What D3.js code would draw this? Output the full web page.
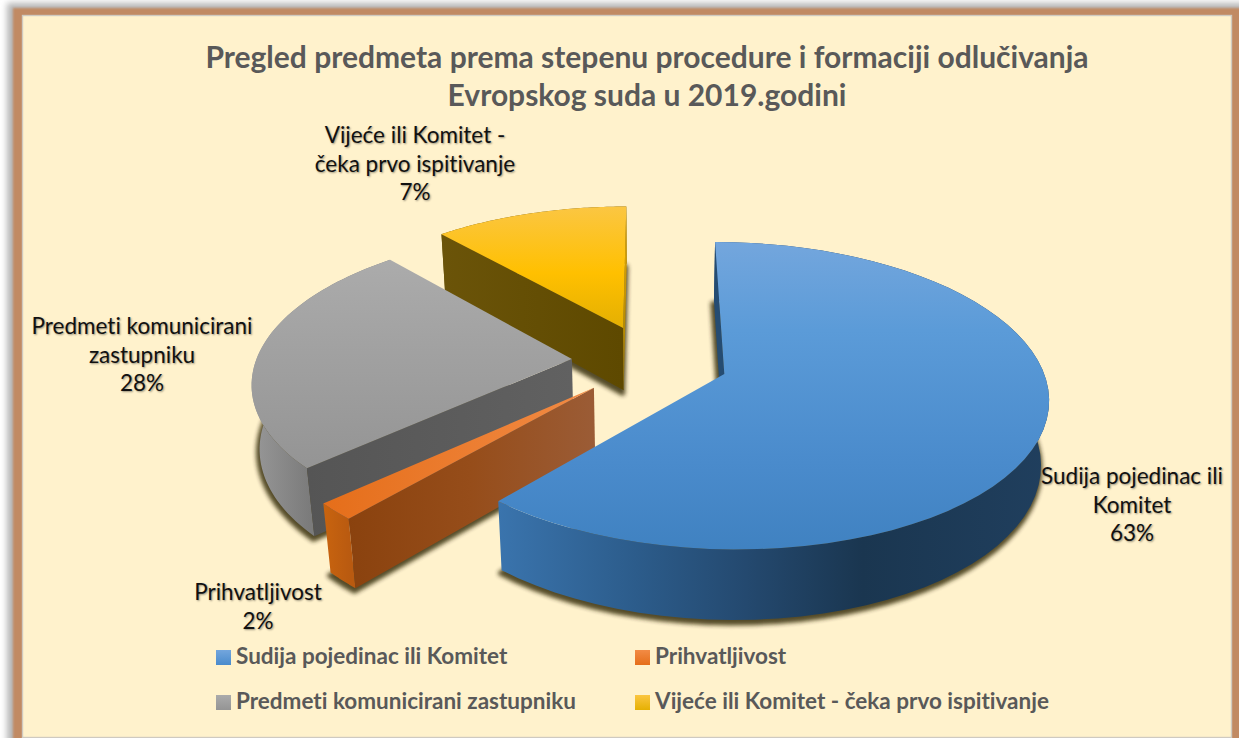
<!DOCTYPE html>
<html><head><meta charset="utf-8">
<script src="https://cdnjs.cloudflare.com/ajax/libs/d3/7.8.5/d3.min.js"></script>
<style>
html,body{margin:0;padding:0;background:#fff;overflow:hidden}
svg{display:block}
text{font-family:Lato,"Open Sans",sans-serif;font-variant-ligatures:none}
</style></head><body>
<svg id="c" width="1239" height="738"></svg>
<script>
const categories=["Sudija pojedinac ili Komitet","Prihvatljivost","Predmeti komunicirani zastupniku","Vijeće ili Komitet - čeka prvo ispitivanje"];
const values=[63,2,28,7];
const sliceColors=["#5b9bd5","#ed7d31","#a5a5a5","#ffc000"];
const titleLines=["Pregled predmeta prema stepenu procedure i formaciji odlučivanja","Evropskog suda u 2019.godini"];
const labelLines=[["Sudija pojedinac ili","Komitet","63%"],["Prihvatljivost","2%"],["Predmeti komunicirani","zastupniku","28%"],["Vijeće ili Komitet -","čeka prvo ispitivanje","7%"]];
const labelAnchors=[[1132,484],[258,600],[142,334],[415,143]];
const legendPos=[[216,650],[635,650],[216,695],[635,695]];
// drawn angles of the perspective rendering, degrees clockwise from the back of the pie
const drawnAngles=[0,221,227.5,318.5,360];

const W=1239,H=738;
const svg=d3.select("#c");
const defs=svg.append("defs");
const blur=(id,s)=>defs.append("filter").attr("id",id).attr("x","-20%").attr("y","-20%").attr("width","140%").attr("height","140%").append("feGaussianBlur").attr("stdDeviation",s);
blur("b1",1);blur("b3",3);blur("b2",2.2);
const grad=(id,x1,y1,x2,y2,stops)=>{const g=defs.append("linearGradient").attr("id",id).attr("gradientUnits","userSpaceOnUse").attr("x1",x1).attr("y1",y1).attr("x2",x2).attr("y2",y2);
 stops.forEach(s=>g.append("stop").attr("offset",s[0]).attr("stop-color",s[1]));return `url(#${id})`;};

// frame
svg.append("rect").attr("x",7).attr("y",3).attr("width",1260).attr("height",760).attr("fill","#b5b5b5").attr("filter","url(#b3)");
svg.append("rect").attr("x",13).attr("y",8).attr("width",1260).attr("height",760).attr("fill","#c18a63").attr("filter","url(#b1)");
svg.append("rect").attr("x",22.5).attr("y",15.5).attr("width",1209).attr("height",722).attr("fill","#fff2cc").attr("stroke","#cfcac0").attr("stroke-width",1.4);

// projection
const cx=650,cy=361,F=316,G=147,K=0.14,DEPTH=65,M=0.02,EXPL=0.248;
const project=(X,Y,z)=>{const w=1+K*Y+M*z;return [cx+F*X/w,cy-G*Y/w+DEPTH*z/w];};

const pie=d3.pie().sort(null).startAngle(0).endAngle(2*Math.PI);
const arcs=pie(values);
const bounds=[...arcs.map(a=>a.startAngle),2*Math.PI];
const angle=d3.scaleLinear().domain(bounds).range(drawnAngles.map(d=>d*Math.PI/180));
const line=d3.line().curve(d3.curveLinear);

const fills=[
 {top:grad("t0",0,243,0,556,[[0,"#73a6dd"],[.28,"#5b9bd8"],[.7,"#4a8bcc"],[1,"#3f81c0"]]),
  outer:grad("o0",498,0,1050,0,[[0,"#3a74ad"],[.25,"#2c5c8b"],[.45,"#24496f"],[.66,"#1a3650"],[1,"#203f5e"]]),
  start:"#254c72",end:"#254c72"},
 {top:grad("t1",323,0,595,0,[[0,"#e56e1a"],[1,"#f28b45"]]),
  outer:grad("o1",323,0,350,0,[[0,"#c9640f"],[1,"#b95a10"]]),
  start:grad("s1",347,0,595,0,[[0,"#8a420e"],[.5,"#964d1a"],[1,"#9b5c36"]]),end:"#8a420e"},
 {top:grad("t2",0,262,0,470,[[0,"#ababab"],[1,"#949494"]]),
  outer:grad("o2",252,0,310,0,[[0,"#989898"],[1,"#7b7b7b"]]),
  start:grad("s2",307,0,572,0,[[0,"#555555"],[1,"#616161"]]),end:"#555"},
 {top:grad("t3",0,208,0,326,[[0,"#fbc641"],[.55,"#ffc000"],[1,"#e5b002"]]),
  outer:"#6a5208",
  start:grad("s3",440,0,622,0,[[0,"#6b5409"],[1,"#5e4900"]]),end:grad("e3",0,208,0,391,[[0,"#e8ae05"],[1,"#9c7700"]])}
];

const slices=arcs.map((a,i)=>{
 const a0=angle(a.startAngle),a1=angle(a.endAngle),mid=(a0+a1)/2;
 const ox=EXPL*Math.sin(mid),oy=EXPL*Math.cos(mid);
 const ts=d3.range(0,61).map(k=>a0+(a1-a0)*k/60);
 const rim=z=>ts.map(t=>project(ox+Math.sin(t),oy+Math.cos(t),z));
 return {i,apex:z=>project(ox,oy,z),rim};
});

const pieG=svg.append("g");
// shadows below everything
slices.forEach(s=>{
 const poly=[s.apex(1),...s.rim(1)];
 pieG.append("path").attr("d",line(poly)+"Z").attr("fill","#2b2400").attr("stroke","#2b2400").attr("stroke-width",5).attr("stroke-linejoin","round").attr("opacity",.8).attr("transform","translate(-1,3)").attr("filter","url(#b2)");
});
// painter order: back slices first
[3,2,1,0].forEach(i=>{
 const s=slices[i],f=fills[i];
 const top=s.rim(0),bot=s.rim(1);
 const g=pieG.append("g");
 g.append("path").attr("d",line([...top,...bot.slice().reverse()])+"Z").attr("fill",f.outer);
 const wall=(c0,c1)=>[s.apex(0),c0,c1,s.apex(1)];
 const startW=wall(top[0],bot[0]),endW=wall(top[60],bot[60]);
 if(d3.polygonArea(startW)>0) g.append("path").attr("d",line(startW)+"Z").attr("fill",f.start);
 if(d3.polygonArea(endW)<0) g.append("path").attr("d",line(endW)+"Z").attr("fill",f.end);
 g.append("path").attr("d",line([s.apex(0),...top])+"Z").attr("fill",f.top);
});

// title
svg.append("g").selectAll("text").data(titleLines).join("text")
 .attr("x",647).attr("y",(d,i)=>68+i*38).attr("text-anchor","middle")
 .attr("font-size",30).attr("font-weight",700).attr("fill","#595959").text(d=>d);

// data labels
labelLines.forEach((ls,i)=>{
 svg.append("text").attr("text-anchor","middle").attr("font-size",22.5).attr("fill","#111")
  .style("text-shadow","1px 1px 2px rgba(0,0,0,.4)")
  .selectAll("tspan").data(ls).join("tspan").attr("x",labelAnchors[i][0]).attr("y",(d,k)=>labelAnchors[i][1]+k*28.7).text(d=>d);
});

// legend
const swG=[grad("l0",0,650,0,665,[[0,"#73a6dd"],[1,"#4a8bcc"]]),grad("l1",0,650,0,665,[[0,"#f28b45"],[1,"#e56e1a"]]),grad("l2",0,695,0,710,[[0,"#ababab"],[1,"#949494"]]),grad("l3",0,695,0,710,[[0,"#fbc641"],[1,"#e5b002"]])];
categories.forEach((c,i)=>{
 svg.append("rect").attr("x",legendPos[i][0]).attr("y",legendPos[i][1]).attr("width",15).attr("height",15).attr("fill",swG[i]);
 svg.append("text").attr("x",legendPos[i][0]+20).attr("y",legendPos[i][1]+14).attr("font-size",22.5).attr("font-weight",700).attr("fill","#595959").text(c);
});
</script></body></html>
